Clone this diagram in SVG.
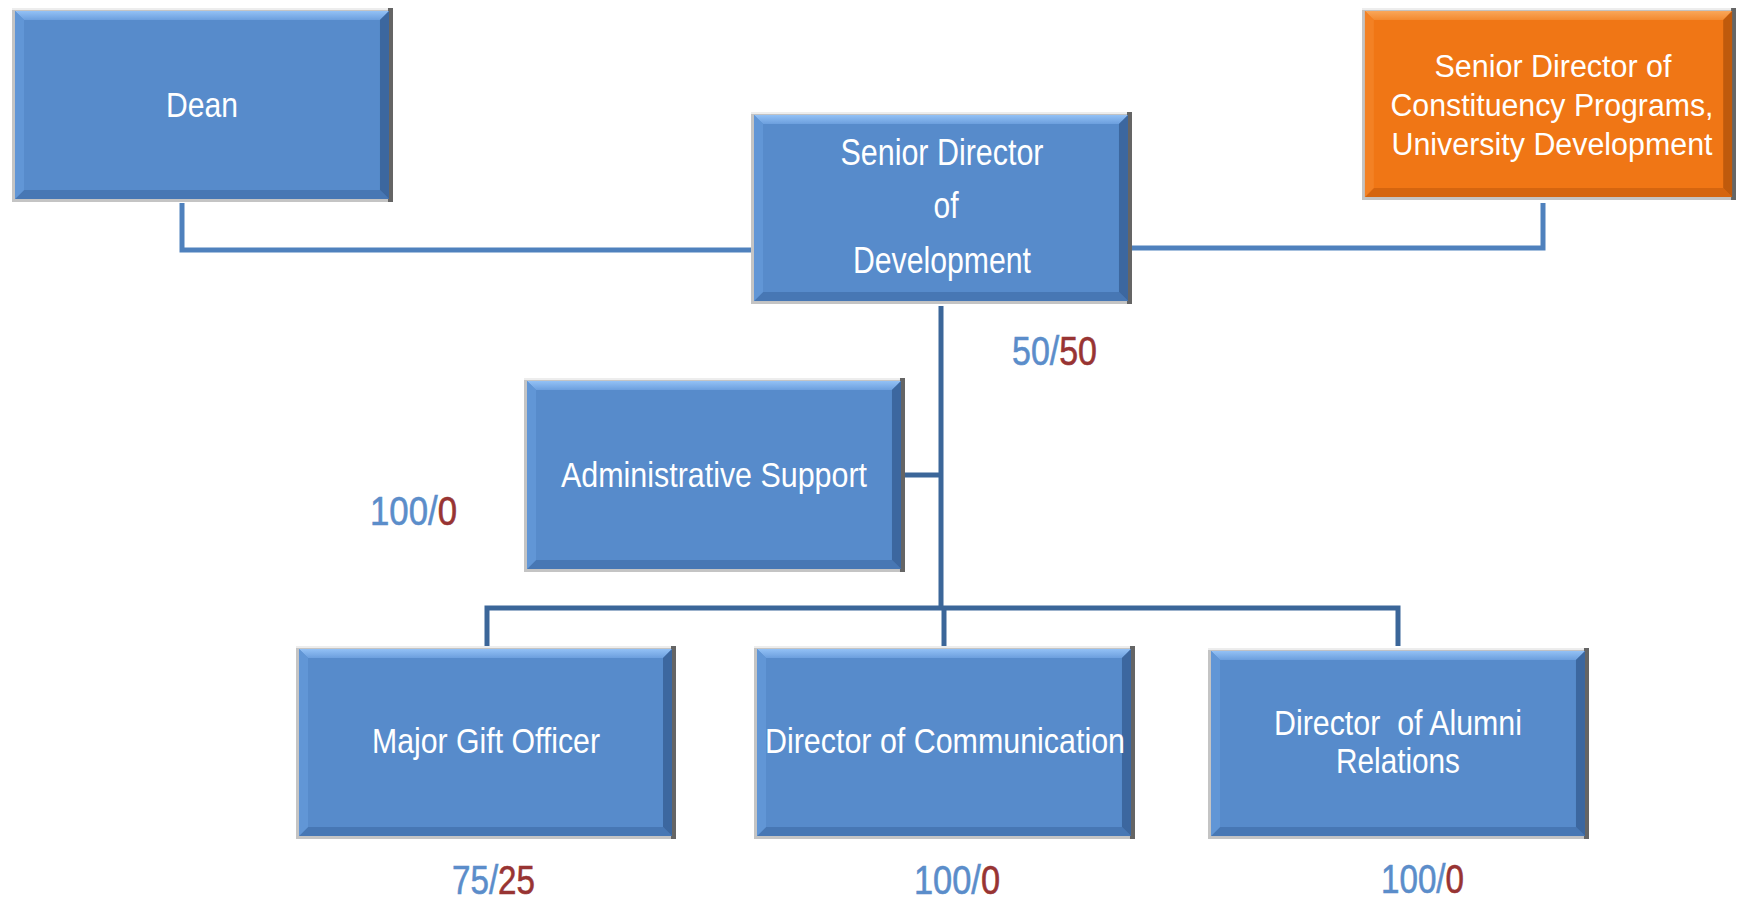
<svg xmlns="http://www.w3.org/2000/svg" xmlns:xlink="http://www.w3.org/1999/xlink" width="1737" height="898" viewBox="0 0 1737 898">
<style>
.t{font-family:"Liberation Sans Narrow","Liberation Sans",Arial,sans-serif;fill:#ffffff;text-anchor:middle}
.n{font-family:"Liberation Sans Narrow","Liberation Sans",Arial,sans-serif;font-size:40px}
.b{fill:#5b8dca;stroke:#5b8dca;stroke-width:0.6}
.r{fill:#983433;stroke:#983433;stroke-width:0.6}
.c1{stroke:#4f81bd;stroke-width:5;fill:none}
.c2{stroke:#3b6699;stroke-width:5;fill:none}
</style>
<defs>
<linearGradient id="gTop" x1="0" y1="0" x2="0" y2="1"><stop offset="0" stop-color="#93c1f5"/><stop offset="1" stop-color="#6c9fde"/></linearGradient>
<linearGradient id="oTop" x1="0" y1="0" x2="0" y2="1"><stop offset="0" stop-color="#f9a75a"/><stop offset="1" stop-color="#f38a30"/></linearGradient>
<symbol id="boxB" viewBox="0 0 380 193" preserveAspectRatio="none">
<rect x="0" y="0" width="380" height="193" fill="#c4c4c4"/>
<rect x="0" y="0" width="380" height="2" fill="#ededed"/>
<rect x="375" y="0" width="5" height="193" fill="#656565"/>
<rect x="3" y="3" width="373" height="187" fill="#578bcb"/>
<polygon points="3,3 376,3 367,12 12,12" fill="url(#gTop)"/>
<polygon points="3,190 376,190 367,181 12,181" fill="#4777b4"/>
<polygon points="3,3 12,12 12,181 3,190" fill="#6196d6"/>
<polygon points="376,3 367,12 367,181 376,190" fill="#3c679f"/>
</symbol>
<symbol id="boxO" viewBox="0 0 380 193" preserveAspectRatio="none">
<rect x="0" y="0" width="380" height="193" fill="#c4c4c4"/>
<rect x="0" y="0" width="380" height="2" fill="#ededed"/>
<rect x="375" y="0" width="5" height="193" fill="#656565"/>
<rect x="3" y="3" width="373" height="187" fill="#f07615"/>
<polygon points="3,3 376,3 367,12 12,12" fill="url(#oTop)"/>
<polygon points="3,190 376,190 367,181 12,181" fill="#d5650f"/>
<polygon points="3,3 12,12 12,181 3,190" fill="#f38124"/>
<polygon points="376,3 367,12 367,181 376,190" fill="#bf5a0c"/>
</symbol>
</defs>
<rect width="1737" height="898" fill="#ffffff"/>

<g id="connectors">
<polyline class="c1" points="182,203 182,250 751,250"/>
<polyline class="c1" points="1543,203 1543,248 1132,248"/>
<line class="c2" x1="941" y1="306" x2="941" y2="610"/>
<line class="c2" x1="905" y1="475" x2="941" y2="475"/>
<polyline class="c2" points="487,646 487,608 1398,608 1398,646"/>
<line class="c2" x1="944" y1="608" x2="944" y2="646"/>
</g>

<g id="dean">
<use xlink:href="#boxB" x="12" y="8" width="381" height="194"/>
<text class="t" x="202" y="117" font-size="35" textLength="72" lengthAdjust="spacingAndGlyphs">Dean</text>
</g>

<g id="senior-director">
<use xlink:href="#boxB" x="751" y="112" width="381" height="192"/>
<text class="t" x="942" y="165" font-size="36" textLength="203" lengthAdjust="spacingAndGlyphs">Senior Director</text>
<text class="t" x="946" y="218" font-size="36" textLength="25" lengthAdjust="spacingAndGlyphs">of</text>
<text class="t" x="942" y="273" font-size="36" textLength="178" lengthAdjust="spacingAndGlyphs">Development</text>
</g>

<g id="constituency">
<use xlink:href="#boxO" x="1362" y="8" width="374" height="192"/>
<text class="t" x="1553" y="77" font-size="31" textLength="237" lengthAdjust="spacingAndGlyphs">Senior Director of</text>
<text class="t" x="1552" y="116" font-size="31" textLength="323" lengthAdjust="spacingAndGlyphs">Constituency Programs,</text>
<text class="t" x="1552" y="155" font-size="31" textLength="321" lengthAdjust="spacingAndGlyphs">University Development</text>
</g>

<g id="admin-support">
<use xlink:href="#boxB" x="524" y="378" width="381" height="194"/>
<text class="t" x="714" y="487" font-size="35" textLength="306" lengthAdjust="spacingAndGlyphs">Administrative Support</text>
</g>

<g id="major-gift">
<use xlink:href="#boxB" x="296" y="646" width="380" height="193"/>
<text class="t" x="486" y="753" font-size="35" textLength="228" lengthAdjust="spacingAndGlyphs">Major Gift Officer</text>
</g>

<g id="communication">
<use xlink:href="#boxB" x="754" y="646" width="381" height="193"/>
<text class="t" x="945" y="753" font-size="35" textLength="360" lengthAdjust="spacingAndGlyphs">Director of Communication</text>
</g>

<g id="alumni">
<use xlink:href="#boxB" x="1208" y="648" width="381" height="191"/>
<text class="t" x="1398" y="735" font-size="35" textLength="248" lengthAdjust="spacingAndGlyphs" xml:space="preserve">Director  of Alumni</text>
<text class="t" x="1398" y="773" font-size="35" textLength="124" lengthAdjust="spacingAndGlyphs">Relations</text>
</g>

<g id="ratios">
<text class="n" x="1012" y="365" textLength="85" lengthAdjust="spacingAndGlyphs"><tspan class="b">50/</tspan><tspan class="r">50</tspan></text>
<text class="n" x="370" y="525" textLength="87" lengthAdjust="spacingAndGlyphs"><tspan class="b">100/</tspan><tspan class="r">0</tspan></text>
<text class="n" x="452" y="894" textLength="83" lengthAdjust="spacingAndGlyphs"><tspan class="b">75/</tspan><tspan class="r">25</tspan></text>
<text class="n" x="914" y="894" textLength="86" lengthAdjust="spacingAndGlyphs"><tspan class="b">100/</tspan><tspan class="r">0</tspan></text>
<text class="n" x="1381" y="893" textLength="83" lengthAdjust="spacingAndGlyphs"><tspan class="b">100/</tspan><tspan class="r">0</tspan></text>
</g>
</svg>
